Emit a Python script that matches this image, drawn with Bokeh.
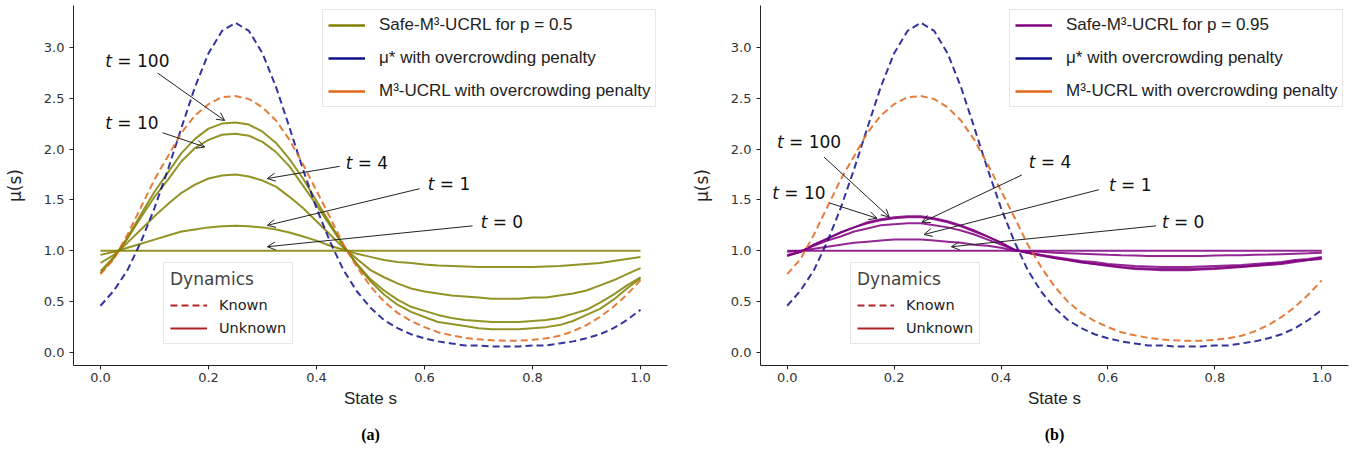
from bokeh.plotting import figure
from bokeh.models import (Legend, LegendItem, Arrow, OpenHead, Title, NumeralTickFormatter,
                          FixedTicker, Range1d, ColumnDataSource)
from bokeh.layouts import row
from bokeh.embed import file_html
from bokeh.resources import INLINE
from bokeh.core.properties import value

# ---------------- data ----------------
S = [0.0, 0.025, 0.05, 0.075, 0.1, 0.125, 0.15, 0.175, 0.2, 0.225, 0.25, 0.275, 0.3, 0.325,
     0.35, 0.375, 0.4, 0.425, 0.45, 0.475, 0.5, 0.525, 0.55, 0.575, 0.6, 0.625, 0.65, 0.675,
     0.7, 0.725, 0.75, 0.775, 0.8, 0.825, 0.85, 0.875, 0.9, 0.925, 0.95, 0.975, 1.0]

mu_star = [0.46, 0.61, 0.81, 1.09, 1.42, 1.80, 2.21, 2.61, 2.94, 3.16, 3.24, 3.16, 2.94, 2.61,
           2.21, 1.80, 1.42, 1.09, 0.81, 0.60, 0.44, 0.32, 0.24, 0.18, 0.14, 0.11, 0.09, 0.07,
           0.07, 0.06, 0.06, 0.06, 0.07, 0.07, 0.09, 0.11, 0.14, 0.18, 0.24, 0.32, 0.42]

m3_ucrl = [0.77, 0.92, 1.16, 1.43, 1.70, 1.93, 2.16, 2.33, 2.44, 2.51, 2.52, 2.49, 2.41, 2.28,
           2.09, 1.85, 1.59, 1.33, 1.06, 0.84, 0.65, 0.50, 0.39, 0.31, 0.25, 0.20, 0.17, 0.145,
           0.13, 0.12, 0.115, 0.117, 0.125, 0.14, 0.165, 0.21, 0.27, 0.35, 0.45, 0.57, 0.71]

# Safe-M3-UCRL, p = 0.5
a_t0 = [1.0, 1.0, 1.0, 1.0, 1.0, 1.0, 1.0, 1.0, 1.0, 1.0, 1.0, 1.0, 1.0, 1.0, 1.0, 1.0, 1.0,
        1.0, 1.0, 1.0, 1.0, 1.0, 1.0, 1.0, 1.0, 1.0, 1.0, 1.0, 1.0, 1.0, 1.0, 1.0, 1.0, 1.0,
        1.0, 1.0, 1.0, 1.0, 1.0, 1.0, 1.0]
a_t1 = [0.96, 0.99, 1.03, 1.07, 1.11, 1.15, 1.19, 1.21, 1.23, 1.24, 1.245, 1.24, 1.23, 1.21,
        1.18, 1.14, 1.10, 1.05, 1.01, 0.97, 0.94, 0.91, 0.89, 0.88, 0.865, 0.855, 0.85, 0.845,
        0.84, 0.84, 0.84, 0.84, 0.84, 0.845, 0.85, 0.86, 0.87, 0.88, 0.90, 0.92, 0.94]
a_t4 = [0.88, 0.96, 1.08, 1.21, 1.34, 1.46, 1.57, 1.65, 1.71, 1.74, 1.75, 1.73, 1.69, 1.63,
        1.53, 1.42, 1.29, 1.16, 1.03, 0.92, 0.81, 0.74, 0.68, 0.63, 0.60, 0.58, 0.56, 0.55,
        0.54, 0.53, 0.53, 0.53, 0.54, 0.54, 0.56, 0.58, 0.61, 0.66, 0.71, 0.77, 0.83]
a_t10 = [0.80, 0.94, 1.12, 1.33, 1.53, 1.70, 1.88, 2.01, 2.09, 2.14, 2.15, 2.13, 2.07, 1.97,
         1.83, 1.64, 1.45, 1.25, 1.05, 0.87, 0.72, 0.61, 0.52, 0.45, 0.41, 0.37, 0.34, 0.32,
         0.31, 0.30, 0.30, 0.30, 0.31, 0.32, 0.34, 0.38, 0.42, 0.49, 0.57, 0.66, 0.74]
a_t100 = [0.78, 0.93, 1.13, 1.36, 1.58, 1.77, 1.96, 2.10, 2.20, 2.25, 2.26, 2.24, 2.17, 2.06,
          1.90, 1.71, 1.49, 1.27, 1.05, 0.86, 0.70, 0.57, 0.47, 0.40, 0.35, 0.30, 0.28, 0.26,
          0.24, 0.23, 0.23, 0.23, 0.24, 0.25, 0.27, 0.31, 0.37, 0.43, 0.52, 0.63, 0.73]

# Safe-M3-UCRL, p = 0.95
b_t0 = [1.0, 1.0, 1.0, 1.0, 1.0, 1.0, 1.0, 1.0, 1.0, 1.0, 1.0, 1.0, 1.0, 1.0, 1.0, 1.0, 1.0,
        1.0, 1.0, 1.0, 1.0, 1.0, 1.0, 1.0, 1.0, 1.0, 1.0, 1.0, 1.0, 1.0, 1.0, 1.0, 1.0, 1.0,
        1.0, 1.0, 1.0, 1.0, 1.0, 1.0, 1.0]
b_t1 = [0.99, 1.00, 1.02, 1.04, 1.06, 1.08, 1.09, 1.10, 1.11, 1.11, 1.11, 1.10, 1.09, 1.08,
        1.06, 1.05, 1.03, 1.00, 0.995, 0.99, 0.98, 0.975, 0.97, 0.965, 0.96, 0.956, 0.954,
        0.95, 0.95, 0.95, 0.95, 0.95, 0.953, 0.955, 0.957, 0.96, 0.963, 0.967, 0.971, 0.975, 0.98]
b_t4 = [0.96, 0.99, 1.05, 1.10, 1.14, 1.19, 1.22, 1.25, 1.26, 1.27, 1.27, 1.25, 1.23, 1.20,
        1.16, 1.11, 1.06, 1.01, 0.98, 0.96, 0.94, 0.92, 0.90, 0.89, 0.87, 0.86, 0.85, 0.845,
        0.84, 0.84, 0.84, 0.845, 0.85, 0.855, 0.86, 0.87, 0.88, 0.89, 0.91, 0.92, 0.94]
b_t10 = [0.95, 0.99, 1.06, 1.12, 1.18, 1.23, 1.27, 1.30, 1.32, 1.33, 1.33, 1.31, 1.28, 1.24,
         1.19, 1.14, 1.08, 1.01, 0.98, 0.96, 0.93, 0.91, 0.89, 0.87, 0.86, 0.84, 0.83, 0.825,
         0.82, 0.82, 0.82, 0.825, 0.83, 0.84, 0.845, 0.855, 0.87, 0.88, 0.90, 0.91, 0.93]
b_t100 = [0.95, 0.99, 1.06, 1.12, 1.18, 1.23, 1.28, 1.31, 1.33, 1.34, 1.34, 1.32, 1.29, 1.25,
          1.20, 1.14, 1.08, 1.01, 0.98, 0.95, 0.93, 0.91, 0.885, 0.87, 0.85, 0.835, 0.82, 0.815,
          0.81, 0.81, 0.81, 0.815, 0.82, 0.83, 0.84, 0.85, 0.86, 0.87, 0.89, 0.91, 0.92]

x_ticks = [0.0, 0.2, 0.4, 0.6, 0.8, 1.0]
y_ticks = [0.0, 0.5, 1.0, 1.5, 2.0, 2.5, 3.0]

ann_text = ["= 100", "= 10", "= 4", "= 1", "= 0"]
# annotation label anchors and arrows (data units)
a_lab_x = [0.009, 0.009, 0.454, 0.606, 0.704]
a_lab_y = [2.86, 2.26, 1.86, 1.66, 1.28]
a_arr_x0 = [0.106, 0.115, 0.443, 0.591, 0.689]
a_arr_y0 = [2.745, 2.16, 1.83, 1.61, 1.245]
a_arr_x1 = [0.23, 0.193, 0.309, 0.309, 0.309]
a_arr_y1 = [2.28, 2.02, 1.71, 1.25, 1.04]

b_lab_x = [-0.019, -0.028, 0.452, 0.602, 0.701]
b_lab_y = [2.07, 1.57, 1.87, 1.65, 1.28]
b_arr_x0 = [0.069, 0.079, 0.439, 0.583, 0.69]
b_arr_y0 = [1.92, 1.47, 1.745, 1.60, 1.245]
b_arr_x1 = [0.191, 0.168, 0.252, 0.256, 0.307]
b_arr_y1 = [1.33, 1.32, 1.28, 1.16, 1.04]

BLUE = "#10108c"
ORANGE = "#e0661a"
KNOWN = "#b22222"
SANS = "DejaVu Sans"
ARIAL = "Liberation Sans"


def make_panel(curves, color, safe_label, lab_x, lab_y, ax0, ay0, ax1, ay1, caption,
               width, mbl, mbr):
    p = figure(width=width, height=456, x_range=Range1d(-0.05, 1.05),
               y_range=Range1d(-0.127, 3.41), output_backend="svg", toolbar_location=None,
               min_border_left=mbl, min_border_right=mbr, min_border_top=5,
               min_border_bottom=90)
    p.outline_line_color = None
    p.xgrid.visible = False
    p.ygrid.visible = False
    p.background_fill_color = "white"

    for ys in curves:
        p.line(S, ys, line_color=color, line_width=2, line_alpha=0.85)
    p.line(S, mu_star, line_color=BLUE, line_width=2, line_dash="7 4", line_alpha=0.85)
    p.line(S, m3_ucrl, line_color=ORANGE, line_width=2, line_dash="7 4", line_alpha=0.85)

    # annotations
    src = ColumnDataSource(dict(x0=ax0, y0=ay0, x1=ax1, y1=ay1))
    p.add_layout(Arrow(source=src, x_start="x0", y_start="y0", x_end="x1", y_end="y1",
                       line_color="#222222", line_width=1,
                       end=OpenHead(size=8, line_color="#222222", line_width=1)))
    p.text(x=lab_x, y=lab_y, text=["t"] * len(lab_x), text_font=value(SANS),
           text_font_style="italic", text_font_size="17px", text_baseline="middle",
           text_align="left", text_color="#111111")
    p.text(x=lab_x, y=lab_y, text=ann_text, x_offset=12, text_font=value(SANS),
           text_font_size="17px", text_baseline="middle", text_align="left",
           text_color="#111111")

    # axes
    for ax in (p.xaxis[0], p.yaxis[0]):
        ax.major_tick_in = 0
        ax.major_tick_out = 4
        ax.minor_tick_line_color = None
        ax.axis_line_color = "#222222"
        ax.major_tick_line_color = "#222222"
        ax.major_label_text_font = SANS
        ax.major_label_text_font_size = "13px"
        ax.major_label_text_color = "#333333"
        ax.axis_label_text_font_style = "normal"
        ax.axis_label_text_color = "#222222"
        ax.axis_label_text_font_size = "17px"
    p.xaxis.ticker = FixedTicker(ticks=x_ticks)
    p.yaxis.ticker = FixedTicker(ticks=y_ticks)
    p.xaxis.formatter = NumeralTickFormatter(format="0.0")
    p.yaxis.formatter = NumeralTickFormatter(format="0.0")
    p.xaxis.axis_label = "State s"
    p.xaxis.axis_label_text_font = ARIAL
    p.xaxis.axis_label_standoff = 4
    p.xaxis.major_label_standoff = 3
    p.yaxis.axis_label = "μ(s)"
    p.yaxis.axis_label_text_font = SANS
    p.yaxis.axis_label_standoff = 16
    p.yaxis.major_label_standoff = 5

    # legends (single-point renderers: they draw nothing, but give the legend glyphs)
    d_safe = p.line(x=S[:1], y=curves[0][:1], line_color=color, line_width=2.5)
    d_mu = p.line(x=S[:1], y=mu_star[:1], line_color=BLUE, line_width=2.5)
    d_m3 = p.line(x=S[:1], y=m3_ucrl[:1], line_color=ORANGE, line_width=2.5)
    leg = Legend(items=[LegendItem(label=safe_label, renderers=[d_safe]),
                        LegendItem(label="μ* with overcrowding penalty", renderers=[d_mu]),
                        LegendItem(label="M³-UCRL with overcrowding penalty", renderers=[d_m3])],
                 location=(249, 258), label_text_font=ARIAL, label_text_font_size="17px",
                 label_text_color="#222222",
                 label_height=20, glyph_height=20, glyph_width=37, spacing=13, padding=5,
                 label_standoff=14, margin=0, border_line_color="#d0d0d0",
                 border_line_width=1, background_fill_alpha=0.85)
    p.add_layout(leg)

    d_known = p.line(x=S[:1], y=mu_star[:1], line_color=KNOWN, line_width=2, line_dash="7 4")
    d_unknown = p.line(x=S[:1], y=mu_star[:1], line_color=KNOWN, line_width=2)
    leg2 = Legend(items=[LegendItem(label="Known", renderers=[d_known]),
                         LegendItem(label="Unknown", renderers=[d_unknown])],
                  title="Dynamics", title_text_font=SANS, title_text_font_size="17px",
                  title_text_font_style="normal", title_standoff=7,
                  location=(90, 21), label_text_font=SANS, label_text_font_size="14.5px",
                  label_text_color="#222222",
                  label_height=18, glyph_height=18, glyph_width=37, spacing=5, padding=6,
                  label_standoff=12, margin=0, border_line_color="#d0d0d0",
                  border_line_width=1, background_fill_alpha=0.85)
    p.add_layout(leg2)

    p.add_layout(Title(text=caption, align="center", text_font="Liberation Serif",
                       text_font_size="16px", text_font_style="bold", standoff=27,
                       text_color="#000000"), "below")
    return p


pa = make_panel([a_t0, a_t1, a_t4, a_t10, a_t100], "#808000", "Safe-M³-UCRL for p = 0.5",
                a_lab_x, a_lab_y, a_arr_x0, a_arr_y0, a_arr_x1, a_arr_y1, "(a)",
                687, 73, 20)
pb = make_panel([b_t0, b_t1, b_t4, b_t10, b_t100], "#800080", "Safe-M³-UCRL for p = 0.95",
                b_lab_x, b_lab_y, b_arr_x0, b_arr_y0, b_arr_x1, b_arr_y1, "(b)",
                662, 73, 1)

layout = row(pa, pb)
open("out.html", "w").write(file_html(layout, INLINE))
